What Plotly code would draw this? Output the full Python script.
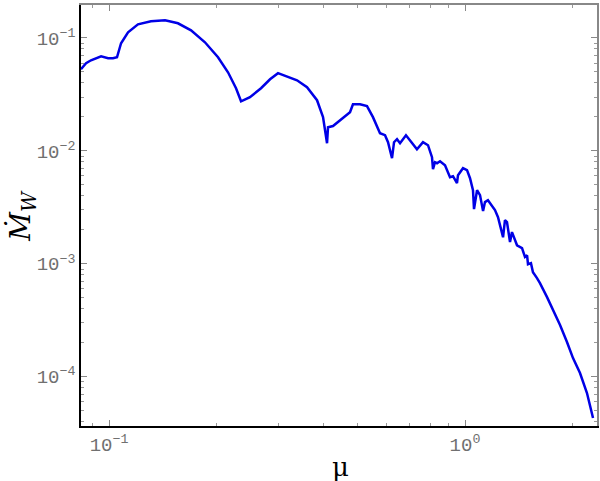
import plotly.graph_objects as go

# mu values (log x axis)
mu = [0.0834, 0.0862, 0.0890, 0.0950, 0.0994, 0.1026, 0.1053, 0.1081, 0.1131, 0.1206,
      0.1312, 0.1437, 0.1562, 0.1700, 0.1860, 0.2024, 0.2159, 0.2274, 0.2349, 0.2489,
      0.2673, 0.2834, 0.2983, 0.3374, 0.3599, 0.3840, 0.3992, 0.4097, 0.4123, 0.4258,
      0.4753, 0.4845, 0.5072, 0.5305, 0.5514, 0.5771, 0.5961, 0.6078, 0.6237, 0.6319,
      0.6442, 0.6569, 0.6826, 0.7005, 0.7329, 0.7621, 0.7872, 0.8078, 0.8130, 0.8236,
      0.8344, 0.8508, 0.8787, 0.9076, 0.9253, 0.9495, 0.9557, 0.9871, 1.013, 1.033,
      1.053, 1.060, 1.081, 1.102, 1.124, 1.138, 1.160, 1.214, 1.238, 1.279,
      1.295, 1.312, 1.338, 1.355, 1.400, 1.446, 1.474, 1.494, 1.503, 1.532,
      1.552, 1.593, 1.624, 1.700, 1.767, 1.849, 1.934, 2.011, 2.104, 2.201, 2.289]

# Mdot_W values
mdot_w = [0.0528, 0.0597, 0.0635, 0.0689, 0.0661, 0.0661, 0.0675, 0.0898, 0.1123, 0.1322,
          0.1405, 0.1434, 0.1349, 0.1170, 0.0916, 0.0675, 0.0497, 0.0359, 0.0275, 0.0299,
          0.0359, 0.0431, 0.0488, 0.0422, 0.0366, 0.0281, 0.0199, 0.0117, 0.0162, 0.0166,
          0.0220, 0.0259, 0.0259, 0.0249, 0.0199, 0.01434, 0.01377, 0.01194, 0.00862, 0.01194,
          0.01269, 0.0117, 0.01377, 0.01244, 0.01035, 0.01194, 0.01123, 0.00879, 0.00689, 0.00794,
          0.00778, 0.00811, 0.00747, 0.00585, 0.00597, 0.00518, 0.00610, 0.00703, 0.00675, 0.00573,
          0.00449, 0.00305, 0.00449, 0.00406, 0.00293, 0.00352, 0.00366, 0.00299, 0.00259, 0.00172,
          0.00244, 0.00234, 0.00156, 0.00191, 0.00146, 0.00138, 0.00115, 0.00119, 0.000993, 0.001014,
          0.000844, 0.000747, 0.000675, 0.000507, 0.000389, 0.000287, 0.000203, 0.0001464, 0.0001079,
          0.0000718, 0.0000431]

x_tickvals = [0.1, 1]
x_ticktext = ['10<sup>−1</sup>', '10<sup>0</sup>']
y_tickvals = [1e-4, 1e-3, 1e-2, 1e-1]
y_ticktext = ['10<sup>−4</sup>', '10<sup>−3</sup>', '10<sup>−2</sup>', '10<sup>−1</sup>']

# minor ticks 2..9 in each decade
x_minor = [m * 10 ** d for d in (-2, -1, 0) for m in range(2, 10)]
y_minor = [m * 10 ** d for d in (-5, -4, -3, -2, -1) for m in range(2, 10)]

x_range = [-1.0787, 0.3708]
y_range = [-4.436, -0.708]

tick_font = dict(family='Liberation Mono', size=19, color='#707070')

fig = go.Figure()

fig.add_trace(go.Scatter(
    x=mu,
    y=mdot_w,
    mode='lines',
    line=dict(color='#0000e6', width=2.5),
    showlegend=False
))

# same curve on the overlay axes, invisible, so the top/right frame gets drawn
fig.add_trace(go.Scatter(
    x=mu,
    y=mdot_w,
    xaxis='x2',
    yaxis='y2',
    mode='lines',
    line=dict(width=0),
    opacity=0,
    hoverinfo='skip',
    showlegend=False
))

common = dict(
    type='log',
    showgrid=False,
    zeroline=False,
    ticks='inside',
    ticklen=6,
    tickwidth=1,
    tickcolor='#888888',
    showline=True,
    automargin=False,
)

minor_x = dict(ticks='inside', ticklen=3, tickcolor='#999999', tickmode='array', tickvals=x_minor)
minor_y = dict(ticks='inside', ticklen=3, tickcolor='#999999', tickmode='array', tickvals=y_minor)

fig.update_layout(
    width=600,
    height=481,
    margin=dict(l=81, r=3, t=5, b=55),
    paper_bgcolor='white',
    plot_bgcolor='white',
    xaxis=dict(
        **common,
        range=x_range,
        linecolor='black',
        linewidth=1.5,
        tickmode='array',
        tickvals=x_tickvals,
        ticktext=x_ticktext,
        tickfont=tick_font,
        minor=minor_x,
    ),
    yaxis=dict(
        **common,
        range=y_range,
        linecolor='black',
        linewidth=1.5,
        tickmode='array',
        tickvals=y_tickvals,
        ticktext=y_ticktext,
        tickfont=tick_font,
        minor=minor_y,
    ),
    # top and right frame, grey like the reference
    xaxis2=dict(
        **common,
        overlaying='x',
        side='top',
        range=x_range,
        linecolor='#888888',
        linewidth=1.5,
        tickmode='array',
        tickvals=x_tickvals,
        showticklabels=False,
        minor=minor_x,
    ),
    yaxis2=dict(
        **common,
        overlaying='y',
        side='right',
        range=y_range,
        linecolor='#888888',
        linewidth=1.5,
        tickmode='array',
        tickvals=y_tickvals,
        showticklabels=False,
        minor=minor_y,
    ),
    annotations=[
        dict(text='μ', xref='paper', yref='paper', x=0.502, y=-0.097,
             showarrow=False, xanchor='center', yanchor='middle',
             font=dict(family='DejaVu Serif', size=26, color='black')),
        dict(text='<i>Ṁ</i><sub><i>W</i></sub>', xref='paper', yref='paper',
             x=-0.114, y=0.50, textangle=-90, showarrow=False,
             xanchor='center', yanchor='middle',
             font=dict(family='DejaVu Serif', size=28, color='black')),
    ],
)

# drop the page's default body margin so the figure sits at the window's corner
fig.write_html("out.html", config={'displayModeBar': False},
               post_script="document.body.style.margin='0';")
